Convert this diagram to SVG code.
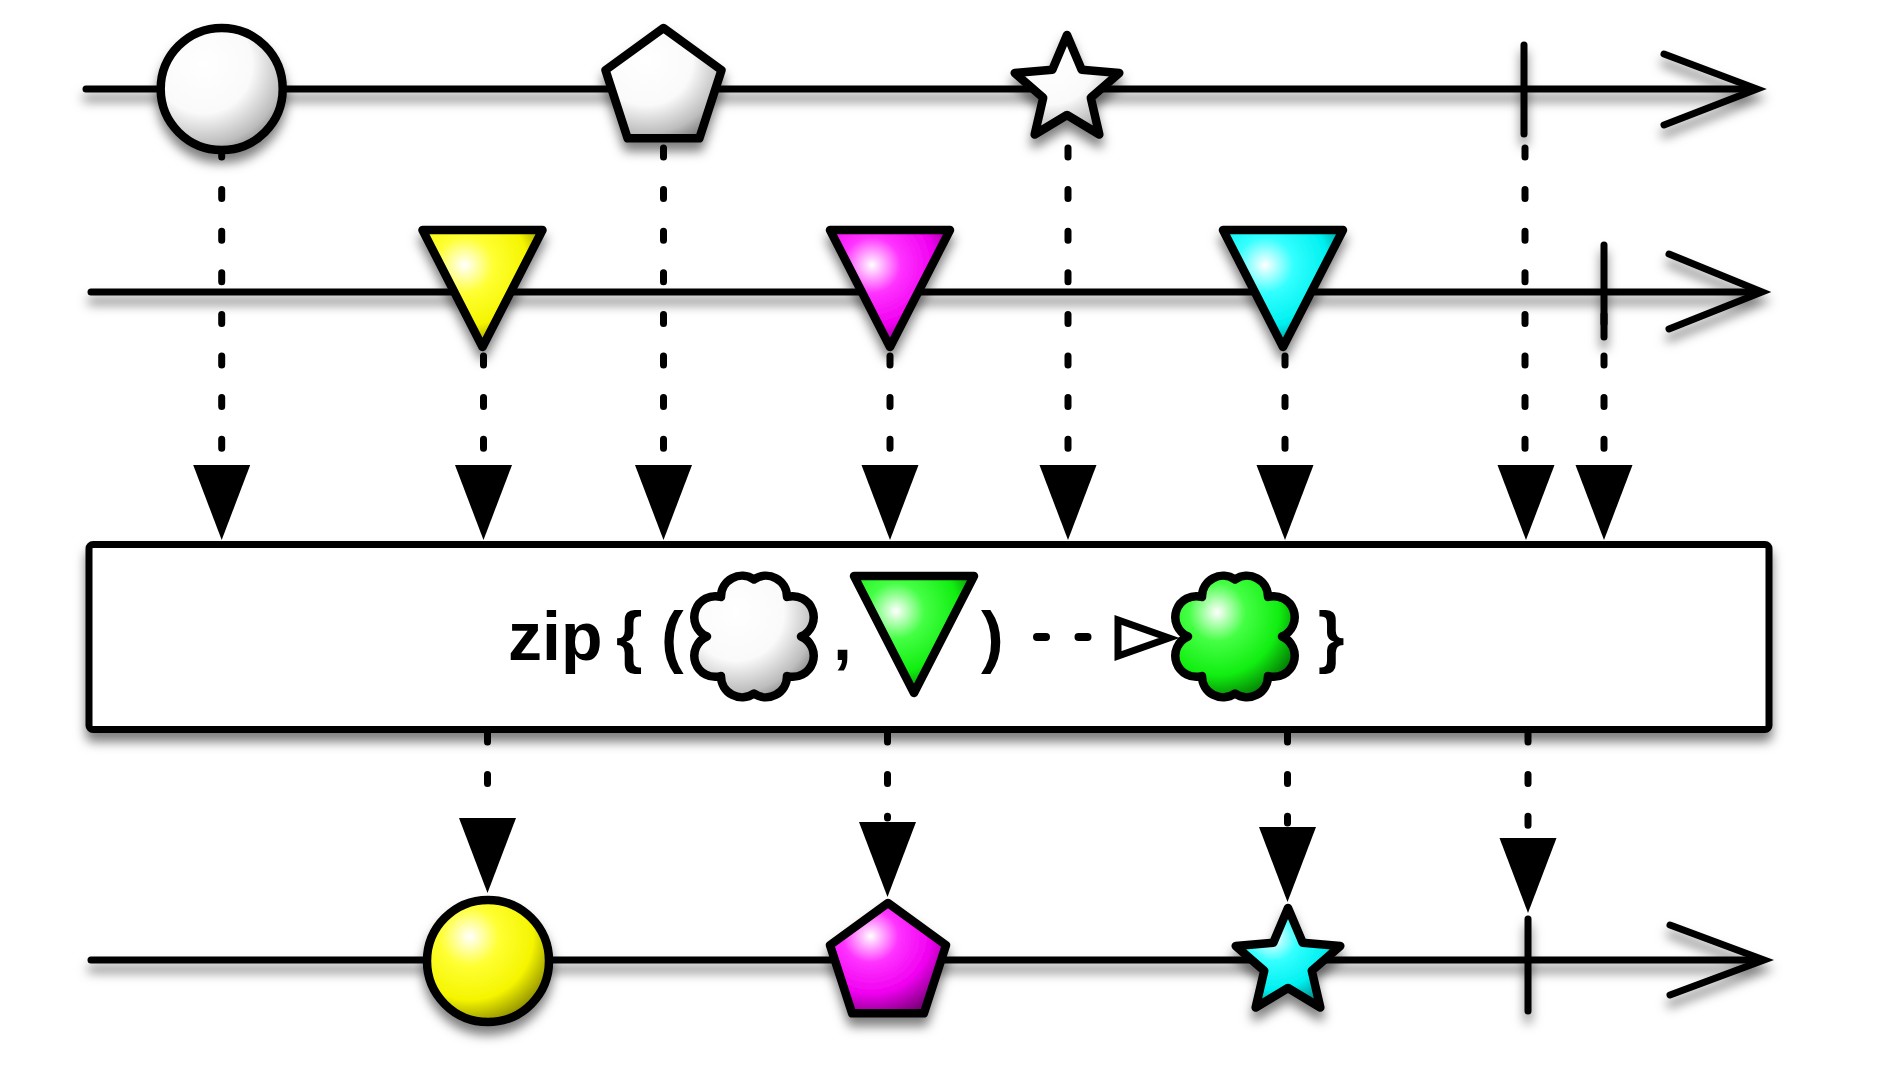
<svg xmlns="http://www.w3.org/2000/svg" xmlns:xlink="http://www.w3.org/1999/xlink" width="1878" height="1086" viewBox="0 0 1878 1086">
<style>
.tl{fill:none;stroke:#000;stroke-width:7;stroke-linecap:round;stroke-linejoin:miter}
.tick{fill:none;stroke:#000;stroke-width:7;stroke-linecap:round}
.shape{stroke:#000;stroke-width:8.5;stroke-linejoin:round}
.dash{fill:none;stroke:#000;stroke-width:7;stroke-linecap:round;stroke-dasharray:9 32.6}
.ah{fill:#000;stroke:none}
.lbl{font-family:"Liberation Sans",Arial,Helvetica,sans-serif;font-weight:bold;font-size:68px;fill:#000}
.shadow{filter:url(#sh)}
</style>
<defs>
<filter id="sh" filterUnits="userSpaceOnUse" x="0" y="0" width="1878" height="1086">
<feDropShadow dx="0" dy="9" stdDeviation="5.5" flood-color="#000" flood-opacity="0.5"/>
</filter>
<radialGradient id="gWhite" cx="0.35" cy="0.3" r="0.8">
<stop offset="0" stop-color="#ffffff"/><stop offset="0.5" stop-color="#fafafa"/><stop offset="0.82" stop-color="#bdbdbd"/><stop offset="1" stop-color="#7a7a7a"/>
</radialGradient>
<radialGradient id="gYellow" cx="0.35" cy="0.3" r="0.8">
<stop offset="0" stop-color="#ffffff"/><stop offset="0.3" stop-color="#ffff33"/><stop offset="0.65" stop-color="#f5f500"/><stop offset="1" stop-color="#6e6e00"/>
</radialGradient>
<radialGradient id="gMagenta" cx="0.35" cy="0.3" r="0.8">
<stop offset="0" stop-color="#ffffff"/><stop offset="0.3" stop-color="#ff33ff"/><stop offset="0.65" stop-color="#f000f0"/><stop offset="1" stop-color="#6e006e"/>
</radialGradient>
<radialGradient id="gCyan" cx="0.35" cy="0.3" r="0.8">
<stop offset="0" stop-color="#ffffff"/><stop offset="0.3" stop-color="#33ffff"/><stop offset="0.65" stop-color="#00f0f0"/><stop offset="1" stop-color="#006e6e"/>
</radialGradient>
<radialGradient id="gGreen" cx="0.35" cy="0.3" r="0.8">
<stop offset="0" stop-color="#ffffff"/><stop offset="0.3" stop-color="#44ff44"/><stop offset="0.65" stop-color="#11ee11"/><stop offset="1" stop-color="#005e00"/>
</radialGradient>
<path id="pent" d="M0,-61 L58.01,-18.85 L35.86,49.35 L-35.86,49.35 L-58.01,-18.85 Z"/>
<path id="star" d="M0,-55 L14.69,-20.23 L52.31,-17 L23.78,7.73 L32.33,44.5 L0,25 L-32.33,44.5 L-23.78,7.73 L-52.31,-17 L-14.69,-20.23 Z"/>
<path id="tri" d="M-60,0 L60,0 L0,117 Z"/>
<path id="cloud" d="M47,0 A21,21 0 0 1 33,39.5 A21,21 0 0 1 0,57 A21,21 0 0 1 -33,39.5 A21,21 0 0 1 -47,0 A21,21 0 0 1 -33,-39.5 A21,21 0 0 1 0,-57 A21,21 0 0 1 33,-39.5 A21,21 0 0 1 47,0 Z"/>
<path id="arr" d="M-28.5,0 L28.5,0 L0,75 Z"/>
</defs>

<g id="timeline-source-1" class="shadow">
<path class="tl" d="M86,89 H1752"/>
<path class="tl" d="M1664,54 L1757,89 L1664,125"/>
</g>
<g id="timeline-source-2" class="shadow">
<path class="tl" d="M91,292 H1757"/>
<path class="tl" d="M1669,254 L1762,292 L1669,329"/>
</g>
<g id="timeline-result" class="shadow">
<path class="tl" d="M91,960 H1759"/>
<path class="tl" d="M1670,925 L1764,960 L1670,995"/>
</g>

<g id="connectors">
<path class="dash" d="M221.7,148 V460"/>
<path class="dash" d="M663.5,148 V460"/>
<path class="dash" d="M1068,148 V460"/>
<path class="dash" d="M1525,148 V460"/>
<path class="dash" d="M483.5,314.4 V460"/>
<path class="dash" d="M890,314.4 V460"/>
<path class="dash" d="M1285,314.4 V460"/>
<path class="dash" d="M1604,314.4 V460"/>
<use href="#arr" class="ah" x="221.7" y="465"/>
<use href="#arr" class="ah" x="483.5" y="465"/>
<use href="#arr" class="ah" x="663.5" y="465"/>
<use href="#arr" class="ah" x="890" y="465"/>
<use href="#arr" class="ah" x="1068" y="465"/>
<use href="#arr" class="ah" x="1285" y="465"/>
<use href="#arr" class="ah" x="1526" y="465"/>
<use href="#arr" class="ah" x="1604" y="465"/>
<path class="dash" d="M487.5,733 V815"/>
<path class="dash" d="M887.5,733 V818"/>
<path class="dash" d="M1287.5,733 V823"/>
<path class="dash" d="M1528,733 V834"/>
<use href="#arr" class="ah" x="487.5" y="818"/>
<use href="#arr" class="ah" x="887.5" y="822"/>
<use href="#arr" class="ah" x="1287.5" y="827"/>
<use href="#arr" class="ah" x="1528" y="838"/>
</g>

<g id="src1-circle" class="shadow"><circle class="shape" cx="221.7" cy="89" r="61" fill="url(#gWhite)"/></g>
<g id="src1-pentagon" class="shadow"><use href="#pent" class="shape" x="663.5" y="89" fill="url(#gWhite)"/></g>
<g id="src1-star" class="shadow"><use href="#star" class="shape" x="1067" y="90" fill="url(#gWhite)"/></g>
<g id="src1-complete" class="shadow"><path class="tick" d="M1524,45 V134"/></g>

<g id="src2-yellow" class="shadow"><use href="#tri" class="shape" x="482.5" y="230" fill="url(#gYellow)"/></g>
<g id="src2-magenta" class="shadow"><use href="#tri" class="shape" x="890" y="230" fill="url(#gMagenta)"/></g>
<g id="src2-cyan" class="shadow"><use href="#tri" class="shape" x="1283" y="230" fill="url(#gCyan)"/></g>
<g id="src2-complete" class="shadow"><path class="tick" d="M1604,245 V337"/></g>

<g id="zip-operator">
<rect class="shadow" x="89" y="544.5" width="1680" height="185" rx="4" fill="#fff" stroke="#000" stroke-width="7"/>
<text class="lbl" x="508" y="660">zip</text>
<text class="lbl" x="616" y="660">{</text>
<text class="lbl" x="661" y="660">(</text>
<use href="#cloud" class="shape" x="754" y="636.5" fill="url(#gWhite)"/>
<text class="lbl" x="833" y="660">,</text>
<use href="#tri" class="shape" x="914" y="576" fill="url(#gGreen)"/>
<text class="lbl" x="981" y="660">)</text>
<path d="M1037,637 H1090" fill="none" stroke="#000" stroke-width="8" stroke-linecap="round" stroke-dasharray="9 32.5"/>
<path d="M1118,620 L1118,656 L1169,638 Z" fill="#fff" stroke="#000" stroke-width="7"/>
<use href="#cloud" class="shape" x="1235" y="636.5" fill="url(#gGreen)"/>
<text class="lbl" x="1318" y="660">}</text>
</g>

<g id="res-yellow-circle" class="shadow"><circle class="shape" cx="488" cy="961" r="61" fill="url(#gYellow)"/></g>
<g id="res-magenta-pentagon" class="shadow"><use href="#pent" class="shape" x="888" y="964" fill="url(#gMagenta)"/></g>
<g id="res-cyan-star" class="shadow"><use href="#star" class="shape" x="1288" y="963" fill="url(#gCyan)"/></g>
<g id="res-complete" class="shadow"><path class="tick" d="M1528,919 V1011"/></g>
</svg>
